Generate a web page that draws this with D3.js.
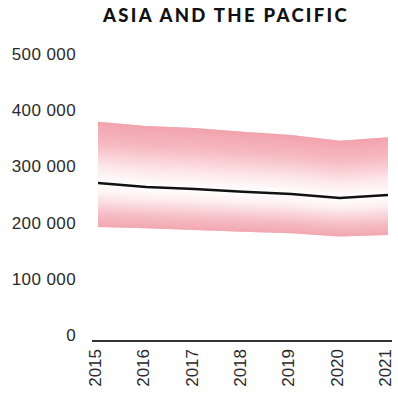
<!DOCTYPE html>
<html>
<head>
<meta charset="utf-8">
<script src="https://cdn.jsdelivr.net/npm/d3@7"></script>
<style>
  html, body { margin: 0; padding: 0; background: #fff; }
  svg { display: block; }
</style>
</head>
<body>
<svg id="chart" width="398" height="394"></svg>
<script>
// Asia and the Pacific: central estimate with an uncertainty band
const years = [2015, 2016, 2017, 2018, 2019, 2020, 2021];
const central = [281000, 274000, 270500, 265700, 261600, 254400, 259800];
const upper = [390000, 382600, 379000, 372400, 366500, 356400, 362500];
const lower = [202800, 200500, 197500, 194500, 191600, 186000, 188600];
const yTicks = [0, 100000, 200000, 300000, 400000, 500000];
const title = "ASIA AND THE PACIFIC";

const svg = d3.select("#chart");

const x = d3.scaleLinear().domain([2015, 2021]).range([98, 388]);
const y = d3.scaleLinear().domain([0, 500000]).range([341, 60]);

const defs = svg.append("defs");
const gUp = defs.append("linearGradient").attr("id", "gUp")
  .attr("x1", 0).attr("y1", 0).attr("x2", 0).attr("y2", 1);
gUp.append("stop").attr("offset", "0%").attr("stop-color", "#f2a2ad");
gUp.append("stop").attr("offset", "35%").attr("stop-color", "#f6b8c0");
gUp.append("stop").attr("offset", "75%").attr("stop-color", "#fde9ec");
gUp.append("stop").attr("offset", "100%").attr("stop-color", "#ffffff");

const gLo = defs.append("linearGradient").attr("id", "gLo")
  .attr("x1", 0).attr("y1", 0).attr("x2", 0).attr("y2", 1);
gLo.append("stop").attr("offset", "0%").attr("stop-color", "#ffffff");
gLo.append("stop").attr("offset", "25%").attr("stop-color", "#fdf0f2");
gLo.append("stop").attr("offset", "70%").attr("stop-color", "#f6bcc4");
gLo.append("stop").attr("offset", "100%").attr("stop-color", "#f2a5af");

// Screen-space polylines for the band edges and the central line
const ptsUp = years.map((yr, i) => [x(yr), y(upper[i])]);
const ptsMid = years.map((yr, i) => [x(yr), y(central[i])]);
const ptsLo = years.map((yr, i) => [x(yr), y(lower[i])]);

function yAt(pts, px) {
  for (let i = 0; i < pts.length - 1; i++) {
    const [x0, y0] = pts[i], [x1, y1] = pts[i + 1];
    if (px >= x0 && px <= x1) return y0 + (y1 - y0) * (px - x0) / (x1 - x0);
  }
  return pts[pts.length - 1][1];
}

// Clip everything to the band outline
const bandArea = d3.area()
  .x((d, i) => x(years[i]))
  .y0((d, i) => y(lower[i]))
  .y1((d, i) => y(upper[i]));
defs.append("clipPath").attr("id", "bandClip")
  .append("path").attr("d", bandArea(years));

// Thin vertical strips so the fade follows the central line
const cols = d3.range(x(2015), x(2021), 1);
const band = svg.append("g").attr("clip-path", "url(#bandClip)");
band.selectAll("rect.up").data(cols).join("rect")
  .attr("class", "up")
  .attr("x", d => d).attr("width", 1.6)
  .attr("y", d => yAt(ptsUp, d) - 1)
  .attr("height", d => yAt(ptsMid, d) - yAt(ptsUp, d) + 1)
  .attr("fill", "url(#gUp)");
band.selectAll("rect.lo").data(cols).join("rect")
  .attr("class", "lo")
  .attr("x", d => d).attr("width", 1.6)
  .attr("y", d => yAt(ptsMid, d))
  .attr("height", d => yAt(ptsLo, d) - yAt(ptsMid, d) + 1)
  .attr("fill", "url(#gLo)");

// Central line
svg.append("path")
  .attr("d", d3.line().x((d, i) => x(years[i])).y(d => y(d))(central))
  .attr("fill", "none").attr("stroke", "#111").attr("stroke-width", 2.5);

// Baseline
svg.append("line")
  .attr("x1", 92).attr("x2", 392)
  .attr("y1", y(0)).attr("y2", y(0))
  .attr("stroke", "#333").attr("stroke-width", 2);

// Y labels
const fmt = v => d3.format(",")(v).replace(/,/g, " ");
svg.append("g").selectAll("text").data(yTicks).join("text")
  .attr("x", 76).attr("y", d => y(d))
  .attr("text-anchor", "end")
  .attr("font-family", "'Liberation Sans', Arial, sans-serif")
  .attr("font-size", 17).attr("fill", "#2a2a2a")
  .attr("letter-spacing", 0.4)
  .text(fmt);

// X labels, rotated
svg.append("g").selectAll("text").data(years).join("text")
  .attr("transform", d => `translate(${x(d) - 3},349) rotate(-90)`)
  .attr("text-anchor", "end")
  .attr("dy", "0.35em")
  .attr("font-family", "'Liberation Sans', Arial, sans-serif")
  .attr("font-size", 17).attr("fill", "#2a2a2a")
  .text(d => d);

// Title
svg.append("text")
  .attr("x", 226).attr("y", 22)
  .attr("text-anchor", "middle")
  .attr("font-family", "Lato, 'DejaVu Sans', sans-serif")
  .attr("font-weight", 900)
  .attr("font-size", 18.5)
  .attr("letter-spacing", 2.3)
  .attr("fill", "#111")
  .text(title);
</script>
</body>
</html>
